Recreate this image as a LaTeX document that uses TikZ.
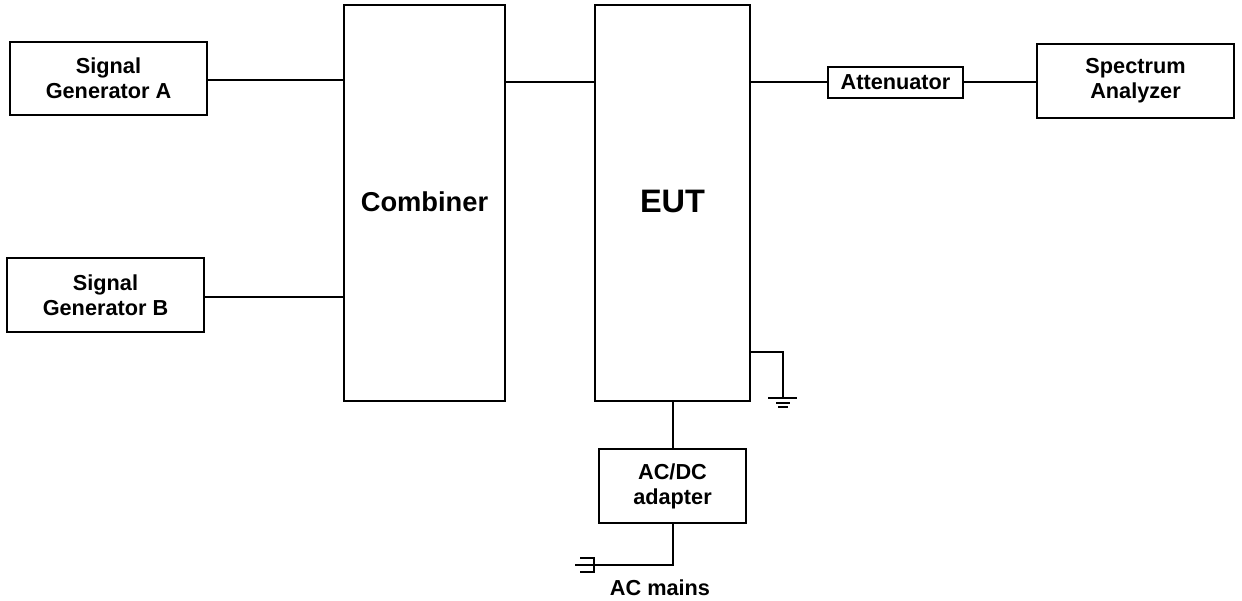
\documentclass[tikz,border=0pt]{standalone}
\usepackage{fontspec}
\setmainfont{Liberation Sans}
\begin{document}
\begin{tikzpicture}[x=1pt,y=-1pt,
  box/.style={draw=black,line width=2pt,outer sep=0pt,fill=white,inner sep=0pt,anchor=north west,align=center,font=\bfseries\fontsize{21.7}{25}\selectfont},
  wire/.style={draw=black,line width=2pt}]
\useasboundingbox (0,0) rectangle (1242,600);
\node[box,minimum width=197pt,minimum height=73pt] (sa) at (10,42) {\raisebox{1pt}{Signal}\\\raisebox{1pt}{Generator A}};
\node[box,minimum width=197pt,minimum height=74pt] (sb) at (7,258) {Signal\\Generator B};
\node[box,minimum width=161pt,minimum height=396pt,font=\bfseries\fontsize{27.3}{30}\selectfont] (comb) at (344,5) {\raisebox{3pt}{Combiner}};
\node[box,minimum width=155pt,minimum height=396pt,font=\bfseries\fontsize{32.5}{36}\selectfont] (eut) at (595,5) {\raisebox{4pt}{EUT}};
\node[box,minimum width=135pt,minimum height=31pt] (att) at (828,67) {Attenuator};
\node[box,minimum width=197pt,minimum height=74pt] (spec) at (1037,44) {Spectrum\\Analyzer};
\node[box,minimum width=147pt,minimum height=74pt] (ac) at (599,449) {AC/DC\\adapter};
\node[font=\bfseries\fontsize{21.7}{25}\selectfont,text=black] (mains) at (660,588) {AC mains};
\coordinate (gc) at (783,352);
\coordinate (gb) at (783,398);
\coordinate (pl) at (575,565);
\draw[wire] (sa.east|-0,80) -- (comb.west|-0,80);
\draw[wire] (sb.east|-0,297) -- (comb.west|-0,297);
\draw[wire] (comb.east|-0,82) -- (eut.west|-0,82);
\draw[wire] (eut.east|-0,82) -- (att.west|-0,82);
\draw[wire] (att.east|-0,82) -- (spec.west|-0,82);
\draw[wire] (eut.south-|673,0) -- (ac.north-|673,0);
\draw[wire] (eut.east|-gc) -- (gc) -- (gb);
\draw[wire] (768,398) -- (797,398);
\draw[wire] (776,403) -- (790,403) (778,407) -- (788,407);
\draw[wire] (ac.south-|673,0) -- (673,565) -- (pl);
\draw[wire] (580,558) -- (594,558) -- (594,572) -- (580,572);
\end{tikzpicture}
\end{document}
